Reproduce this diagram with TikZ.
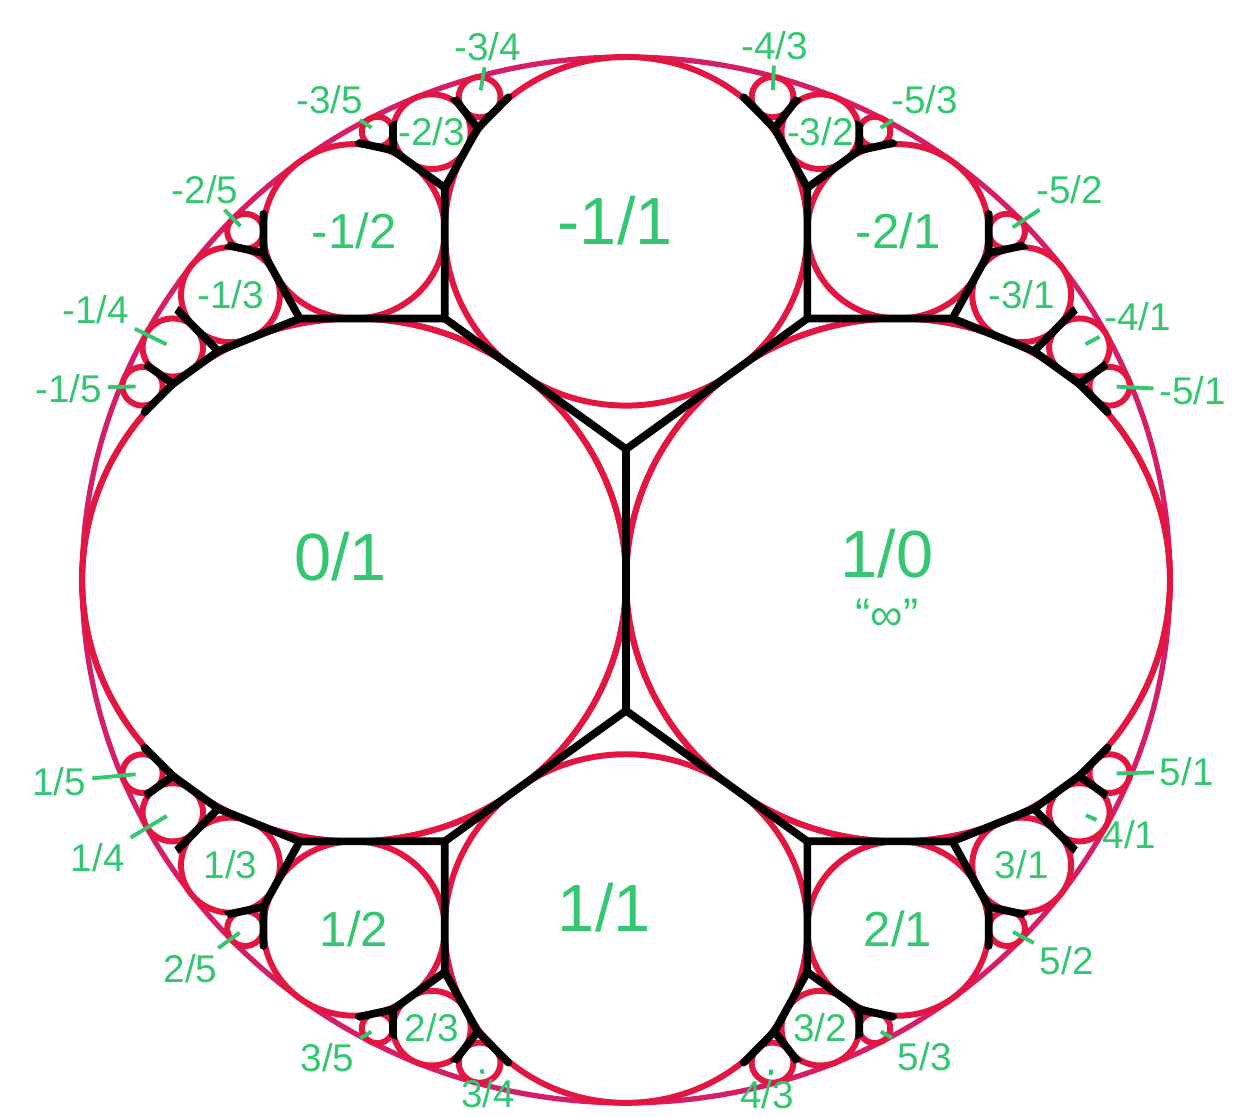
\documentclass[tikz,border=0pt]{standalone}
\usepackage{fontspec}
\setmainfont{Liberation Sans}
\usepackage{tikz}
\usetikzlibrary{calc,positioning}

\definecolor{fordred}{RGB}{226,22,64}
\definecolor{rimred}{RGB}{214,30,104}
\definecolor{labgreen}{RGB}{52,198,112}

\newcommand\fordcircle[3]{%
  \pgfmathsetmacro\fN{1+(#2)*(#2)+(#3)*(#3)}%
  \pgfmathsetmacro\fX{((#2)*(#2)-(#3)*(#3))/\fN}%
  \pgfmathsetmacro\fY{-2*(#2)*(#3)/\fN}%
  \pgfmathsetmacro\fR{1/\fN}%
  \expandafter\xdef\csname rad#1\endcsname{\fR}%
  \coordinate (#1) at (\fX,\fY);
  \draw[ford] (#1) circle (\fR);
}
\newcommand\gapvertex[4]{%
  \pgfmathsetmacro\wa{\csname rad#3\endcsname+\csname rad#4\endcsname}%
  \pgfmathsetmacro\wb{\csname rad#2\endcsname+\csname rad#4\endcsname}%
  \pgfmathsetmacro\wc{\csname rad#2\endcsname+\csname rad#3\endcsname}%
  \pgfmathsetmacro\ws{\wa+\wb+\wc}%
  \pgfmathsetmacro\wa{\wa/\ws}%
  \pgfmathsetmacro\wb{\wb/\ws}%
  \pgfmathsetmacro\wc{\wc/\ws}%
  \coordinate (#1) at ($\wa*(#2)+\wb*(#3)+\wc*(#4)$);
}
\newcommand\treestub[3]{%
  \pgfmathsetmacro\sw{\csname rad#2\endcsname/(\csname rad#2\endcsname+\csname rad#3\endcsname)}%
  \coordinate (t#1#2) at ($(#2)!\sw!(#3)$);
  \coordinate (e#1#2) at ($(#1)!1.8!(t#1#2)$);
  \draw[tree] (#1) -- (e#1#2);
}

\begin{document}
\begin{tikzpicture}[x=5.44cm,y=5.23cm,
  ford/.style={draw=fordred,line width=1.7pt},
  rim/.style={draw=rimred,line width=1.5pt},
  tree/.style={draw=black,line width=2.2pt,line cap=round,line join=round},
  lab/.style={text=labgreen,inner sep=1.5pt},
  leader/.style={draw=labgreen,line width=1.1pt,shorten >=2pt},
  bigfont/.style={font=\fontsize{19}{21}\selectfont},
  midfont/.style={font=\fontsize{14}{16}\selectfont},
  smallfont/.style={font=\fontsize{11}{13}\selectfont}]
  \useasboundingbox (-1.151,-1.027) rectangle (1.136,1.109);
  \draw[rim] (0,0) circle (1);
  \foreach \s/\sg in {n/-1,p/1}
    \foreach \nm/\p/\q in {0x1/0/1,1x0/1/0,1x1/1/1,1x2/1/2,2x1/2/1,1x3/1/3,2x3/2/3,3x2/3/2,3x1/3/1,
        1x4/1/4,2x5/2/5,3x5/3/5,3x4/3/4,4x3/4/3,5x3/5/3,5x2/5/2,4x1/4/1,1x5/1/5,5x1/5/1}
      {\fordcircle{\s\nm}{\sg*\p}{\q}}
  \foreach \s in {n,p}
    \foreach \g/\a/\b/\c in {c/0x1/1x0/1x1,1x2/0x1/1x1/1x2,1x3/0x1/1x2/1x3,2x3/1x2/1x1/2x3,
        1x4/0x1/1x3/1x4,2x5/1x3/1x2/2x5,3x5/1x2/2x3/3x5,3x4/2x3/1x1/3x4,1x5/0x1/1x4/1x5,
        2x1/1x1/1x0/2x1,3x2/1x1/2x1/3x2,3x1/2x1/1x0/3x1,4x3/1x1/3x2/4x3,5x3/3x2/2x1/5x3,
        5x2/2x1/3x1/5x2,4x1/3x1/1x0/4x1,5x1/4x1/1x0/5x1}
      {\gapvertex{g\s\g}{\s\a}{\s\b}{\s\c}}
  \draw[tree] (gnc) -- (gpc);
  \foreach \s in {n,p}
    \foreach \a/\b in {c/1x2,c/2x1,1x2/1x3,1x2/2x3,1x3/1x4,1x3/2x5,2x3/3x5,2x3/3x4,1x4/1x5,
        2x1/3x2,2x1/3x1,3x2/4x3,3x2/5x3,3x1/5x2,3x1/4x1,4x1/5x1}
      {\draw[tree] (g\s\a) -- (g\s\b);}
  \begin{scope}
    \clip (0,0) circle (0.975);
    \foreach \s in {n,p}
      \foreach \g/\a/\b in {1x4/1x3/1x4,2x5/1x3/2x5,2x5/1x2/2x5,3x5/1x2/3x5,3x5/2x3/3x5,
          3x4/2x3/3x4,3x4/1x1/3x4,1x5/0x1/1x5,1x5/1x4/1x5,4x1/3x1/4x1,5x2/2x1/5x2,
          5x2/3x1/5x2,5x3/3x2/5x3,5x3/2x1/5x3,4x3/1x1/4x3,4x3/3x2/4x3,5x1/4x1/5x1,5x1/1x0/5x1}
        {\treestub{g\s\g}{\s\a}{\s\b}}
  \end{scope}
  \node[lab,bigfont] (lp0x1) at ($(p0x1)+(-0.025,0.045)$) {0/1};
  \node[lab,bigfont] (lp1x0) at ($(p1x0)+(-0.02,0.05)$) {1/0};
  \node[lab,font=\fontsize{13}{15}\selectfont,below=2.5pt of lp1x0] (linf) {“∞”};
  \node[lab,bigfont] (ln1x1) at ($(n1x1)+(-0.02,0.02)$) {-1/1};
  \node[lab,bigfont] (lp1x1) at ($(p1x1)+(-0.04,0.04)$) {1/1};
  \foreach \nm/\txt in {n1x2/{-1/2},n2x1/{-2/1},p1x2/{1/2},p2x1/{2/1}}
    \node[lab,midfont] (l\nm) at (\nm) {\txt};
  \foreach \nm/\txt in {n1x3/{-1/3},n2x3/{-2/3},n3x2/{-3/2},n3x1/{-3/1},
      p1x3/{1/3},p2x3/{2/3},p3x2/{3/2},p3x1/{3/1}}
    \node[lab,smallfont] (l\nm) at (\nm) {\txt};
  \foreach \nm/\txt/\dx/\dy in {n3x4/{-3/4}/0.015/0.096,n3x5/{-3/5}/-0.088/0.061,
      n2x5/{-2/5}/-0.074/0.080,n1x4/{-1/4}/-0.142/0.073,n1x5/{-1/5}/-0.136/-0.004,
      n4x3/{-4/3}/0.004/0.099,n5x3/{-5/3}/0.092/0.061,n5x2/{-5/2}/0.116/0.080,
      n4x1/{-4/1}/0.107/0.059,n5x1/{-5/1}/0.153/-0.008,
      p1x5/{1/5}/-0.153/-0.015,p1x4/{1/4}/-0.138/-0.086,p2x5/{2/5}/-0.101/-0.076,
      p3x5/{3/5}/-0.092/-0.057,p3x4/{3/4}/0.016/-0.060,p4x3/{4/3}/-0.010/-0.062,
      p5x3/{5/3}/0.092/-0.054,p5x2/{5/2}/0.110/-0.061,p4x1/{4/1}/0.092/-0.042,
      p5x1/{5/1}/0.142/0.004}
    {\node[lab,smallfont] (l\nm) at ($(\nm)+(\dx,\dy)$) {\txt};
     \draw[leader] (l\nm) -- (\nm);}
\end{tikzpicture}
\end{document}
